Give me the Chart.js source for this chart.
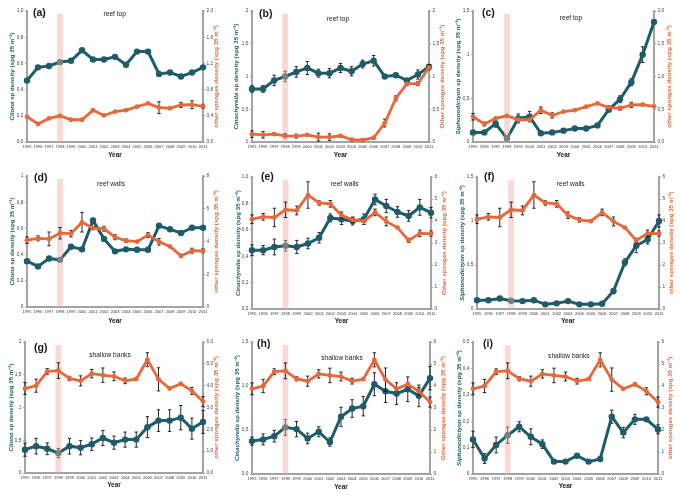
<!DOCTYPE html>
<html><head><meta charset="utf-8">
<script src="https://cdn.jsdelivr.net/npm/chart.js@4.4.1/dist/chart.umd.min.js"></script>
<style>
html,body{margin:0;padding:0;background:#fff}
body{width:680px;height:502px;position:relative;overflow:hidden}
canvas{position:absolute}
</style>
</head><body>
<script>
// ---------- DATA ----------
const years = ['1995','1996','1997','1998','1999','2000','2001','2002','2003','2004','2005','2006','2007','2008','2009','2010','2011'];

// reef top
const topCliona       = [0.47,0.57,0.58,0.61,0.62,0.70,0.63,0.63,0.65,0.59,0.69,0.69,0.52,0.53,0.50,0.53,0.57];
const topClionaErr    = [0,0,0,0,0,0,0,0,0,0,0,0,0,0,0,0,0];
const topOther        = [0.385,0.275,0.36,0.40,0.34,0.34,0.485,0.405,0.465,0.485,0.54,0.59,0.525,0.515,0.565,0.57,0.545];
const topOtherErrA    = [0,0,0,0,0,0,0,0,0,0,0,0,0.09,0,0.04,0.06,0.03];
const topOtherErrC    = [0.05,0.03,0,0,0,0,0.05,0.04,0,0,0,0,0.03,0.03,0.04,0.02,0];
const topCinachyrella    = [0.81,0.81,0.94,1.00,1.07,1.13,1.05,1.05,1.13,1.08,1.19,1.24,1.00,1.02,0.94,1.03,1.15];
const topCinachyrellaErr = [0.05,0.05,0.08,0.08,0.08,0.10,0.06,0.07,0.07,0.07,0.06,0.08,0.03,0.03,0.02,0.07,0.03];
const topOtherB       = [0.12,0.11,0.12,0.095,0.09,0.11,0.075,0.075,0.095,0.035,0.03,0.065,0.29,0.665,0.89,0.89,1.14];
const topOtherErrB    = [0.05,0.05,0.02,0.03,0.03,0.02,0.06,0.05,0.02,0.02,0.02,0.02,0.06,0.04,0.03,0.03,0.04];
const topSipho        = [0.11,0.11,0.21,0.04,0.27,0.29,0.10,0.11,0.13,0.155,0.155,0.19,0.37,0.49,0.685,1.0,1.375];
const topSiphoErr     = [0,0,0.04,0,0.05,0.06,0,0,0,0,0,0,0.02,0.04,0.04,0.09,0];

// reef walls
const wallsCliona     = [0.35,0.31,0.37,0.36,0.46,0.44,0.66,0.52,0.425,0.44,0.437,0.437,0.62,0.593,0.565,0.605,0.605];
const wallsClionaErr  = [0,0,0,0,0,0,0,0,0,0,0,0,0,0,0,0,0];
const wallsOther      = [4.08,4.19,4.16,4.51,4.48,5.18,4.82,4.78,4.26,4.05,3.99,4.39,3.98,3.70,3.12,3.44,3.43];
const wallsOtherErr   = [0.2,0.15,0.42,0.35,0.2,0.6,0.1,0.15,0.15,0.1,0.05,0.15,0.2,0.05,0.1,0.15,0.12];
const wallsCinachyrella    = [0.446,0.446,0.47,0.479,0.47,0.496,0.54,0.69,0.68,0.667,0.68,0.83,0.78,0.735,0.705,0.77,0.73];
const wallsCinachyrellaErr = [0.04,0.035,0.06,0.04,0.05,0.04,0.04,0.03,0.04,0.03,0.04,0.04,0.05,0.04,0.04,0.06,0.04];
const wallsSipho      = [0.10,0.10,0.12,0.094,0.09,0.10,0.053,0.064,0.09,0.053,0.053,0.06,0.204,0.53,0.72,0.79,1.0];
const wallsSiphoErr   = [0,0,0,0,0,0,0,0,0,0,0,0,0.03,0.04,0.08,0.05,0.07];

// shallow banks
const shallowCliona    = [0.356,0.41,0.37,0.305,0.41,0.387,0.44,0.534,0.463,0.51,0.51,0.70,0.80,0.80,0.845,0.677,0.78];
const shallowClionaErr = [0.1,0.12,0.09,0.07,0.12,0.11,0.095,0.115,0.1,0.115,0.115,0.16,0.165,0.165,0.185,0.16,0.175];
const shallowOther     = [3.87,4.0,4.65,4.69,4.33,4.22,4.55,4.48,4.43,4.22,4.31,5.19,4.29,3.87,4.08,3.76,3.27];
const shallowOtherErr  = [0.27,0.3,0.13,0.36,0.1,0.23,0.19,0.33,0.2,0.13,0.05,0.32,0.53,0.05,0.07,0.16,0.23];
const shallowCinachyrella    = [0.374,0.393,0.43,0.53,0.51,0.404,0.48,0.363,0.65,0.744,0.77,1.02,0.94,0.914,0.963,0.888,1.09];
const shallowCinachyrellaErr = [0.047,0.062,0.066,0.09,0.087,0.06,0.057,0.047,0.108,0.1,0.11,0.13,0.128,0.123,0.14,0.123,0.134];
const shallowSipho     = [0.131,0.059,0.11,0.147,0.179,0.141,0.113,0.047,0.047,0.069,0.047,0.057,0.217,0.157,0.207,0.207,0.169];
const shallowSiphoErr  = [0.031,0.019,0.03,0.031,0.019,0.03,0.016,0.003,0.003,0.003,0,0,0.025,0.02,0.019,0.005,0.017];

// tick labels
const ticks01by02   = ['0,0','0,2','0,4','0,6','0,8','1,0'];
const ticks01by02b  = ['0','0,2','0,4','0,6','0,8','1'];
const ticks02by04   = ['0,0','0,4','0,8','1,2','1,6','2,0'];
const ticks02by05   = ['0','0,5','1','1,5','2'];
const ticks015      = ['0','0,5','1','1,5'];
const ticks015b     = ['0,0','0,5','1,0','1,5'];
const ticks02by05b  = ['0,0','0,5','1,0','1,5','2,0'];
const ticks08       = ['0','2','4','6','8'];
const ticks06       = ['0','1','2','3','4','5','6'];
const ticks06b      = ['0,0','1,0','2,0','3,0','4,0','5,0','6,0'];
const ticks005      = ['0','0,1','0,2','0,3','0,4','0,5'];

const yearsIdx1998 = 3;

// panels
const panels = [
 {id:'a', letter:'(a)', title:'reef top', genus:'Cliona', left:topCliona, leftErr:topClionaErr, right:topOther, rightErr:topOtherErrA, lt:ticks01by02, rt:ticks02by04, other:'other'},
 {id:'b', letter:'(b)', title:'reef top', genus:'Cinachyrella', left:topCinachyrella, leftErr:topCinachyrellaErr, right:topOtherB, rightErr:topOtherErrB, lt:ticks02by05, rt:ticks02by05, other:'Other'},
 {id:'c', letter:'(c)', title:'reef top', genus:'Siphonodictyon', left:topSipho, leftErr:topSiphoErr, right:topOther, rightErr:topOtherErrC, lt:ticks015, rt:ticks02by05b, other:'other'},
 {id:'d', letter:'(d)', title:'reef walls', genus:'Cliona', left:wallsCliona, leftErr:wallsClionaErr, right:wallsOther, rightErr:wallsOtherErr, lt:ticks01by02b, rt:ticks08, other:'other'},
 {id:'e', letter:'(e)', title:'reef walls', genus:'Cinachyrella', left:wallsCinachyrella, leftErr:wallsCinachyrellaErr, right:wallsOther, rightErr:wallsOtherErr, lt:ticks01by02, rt:ticks06, other:'Other'},
 {id:'f', letter:'(f)', title:'reef walls', genus:'Siphonodictyon', left:wallsSipho, leftErr:wallsSiphoErr, right:wallsOther, rightErr:wallsOtherErr, lt:ticks015, rt:ticks06, other:'other'},
 {id:'g', letter:'(g)', title:'shallow banks', genus:'Cliona', left:shallowCliona, leftErr:shallowClionaErr, right:shallowOther, rightErr:shallowOtherErr, lt:ticks02by05, rt:ticks06b, other:'other'},
 {id:'h', letter:'(h)', title:'shallow banks', genus:'Cinachyrella', left:shallowCinachyrella, leftErr:shallowCinachyrellaErr, right:shallowOther, rightErr:shallowOtherErr, lt:ticks015b, rt:ticks06, other:'Other'},
 {id:'i', letter:'(i)', title:'shallow banks', genus:'Siphonodictyon', left:shallowSipho, leftErr:shallowSiphoErr, right:shallowOther, rightErr:shallowOtherErr, lt:ticks005, rt:ticks06, other:'other'}
];

// ---------- LAYOUT (page pixel positions) ----------
const geom = {
 a:{cx:0,cy:0,cw:226,ch:165,L:27,R:203,T:11,B:142,ltX:12.5,rtX:216,yearY:155.5,letX:33,letY:13.5,titX:114.7,titY:14},
 b:{cx:226,cy:0,cw:226,ch:165,L:252,R:429,T:11,B:142,ltX:236,rtX:442,yearY:155.5,letX:259,letY:14,titX:338,titY:19.5},
 c:{cx:452,cy:0,cw:228,ch:165,L:473,R:654,T:11,B:142,ltX:458.5,rtX:669.5,yearY:155.5,letX:482,letY:13,titX:571,titY:18.3},
 d:{cx:0,cy:165,cw:226,ch:165,L:27,R:203,T:176,B:307,ltX:12.5,rtX:216,yearY:321.7,letX:34,letY:178.3,titX:111,titY:184.3},
 e:{cx:226,cy:165,cw:226,ch:165,L:252,R:431,T:177,B:309,ltX:238,rtX:444,yearY:321.7,letX:261,letY:177,titX:344.7,titY:184},
 f:{cx:452,cy:165,cw:228,ch:165,L:477,R:659,T:177,B:309,ltX:462.7,rtX:671,yearY:321.7,letX:484,letY:177.3,titX:570.7,titY:184},
 g:{cx:0,cy:330,cw:226,ch:172,L:25,R:203,T:342,B:473,ltX:11.5,rtX:216,yearY:485.7,letX:34,letY:347.7,titX:110,titY:355},
 h:{cx:226,cy:330,cw:226,ch:172,L:252,R:430,T:342,B:474,ltX:237.7,rtX:443.5,yearY:487,letX:257,letY:344,titX:342,titY:357.7},
 i:{cx:452,cy:330,cw:228,ch:172,L:473,R:658,T:342,B:474,ltX:459.5,rtX:670.5,yearY:486.5,letX:483,letY:344,titX:568.8,titY:356}
};

// ---------- STYLE ----------
const TEAL = '#1d5c68';
const ORANGE = '#e8683a';
const AXIS = '#a3a3a3';
const FONT = "'Liberation Sans', Arial, sans-serif";
const TICK_SIZE = 4.8, XTICK_SIZE = 4, TITLE_SIZE = 6.2, YEAR_SIZE = 6.5;

function num(s){ return parseFloat(s.replace(',', '.')); }

function drawVTitle(ctx, x, y, segs, color) {
  ctx.save();
  ctx.translate(x, y);
  ctx.rotate(-Math.PI / 2);
  ctx.fillStyle = color;
  ctx.textBaseline = 'middle';
  ctx.textAlign = 'left';
  const fonts = segs.map(s => (s.i ? 'italic ' : '') + 'bold ' + TITLE_SIZE + 'px ' + FONT);
  let total = 0;
  segs.forEach((s, k) => { ctx.font = fonts[k]; total += ctx.measureText(s.t).width; });
  let pos = -total / 2;
  segs.forEach((s, k) => { ctx.font = fonts[k]; ctx.fillText(s.t, pos, 0); pos += ctx.measureText(s.t).width; });
  ctx.restore();
}

const deco = {
  id: 'deco',
  beforeDatasetDraw(chart, args) {
    const ds = chart.data.datasets[args.index];
    const meta = args.meta;
    const ys = chart.scales[meta.yAxisID];
    const ctx = chart.ctx;
    ctx.save();
    ctx.strokeStyle = '#111';
    ctx.lineWidth = 0.9;
    ds.err.forEach((e, i) => {
      if (!e) return;
      const x = meta.data[i].x;
      const v = ds.data[i];
      const y1 = ys.getPixelForValue(v + e), y2 = ys.getPixelForValue(v - e);
      ctx.beginPath();
      ctx.moveTo(x, y1); ctx.lineTo(x, y2);
      ctx.moveTo(x - 1.7, y1); ctx.lineTo(x + 1.7, y1);
      ctx.moveTo(x - 1.7, y2); ctx.lineTo(x + 1.7, y2);
      ctx.stroke();
    });
    ctx.restore();
  },
  afterDatasetDraw(chart, args) {
    if (args.index !== 0) return;
    const ctx = chart.ctx, a = chart.chartArea;
    const x = chart.scales.x.getPixelForValue(yearsIdx1998);
    ctx.save();
    ctx.fillStyle = 'rgba(240,170,165,0.45)';
    ctx.fillRect(x - 2.9, a.top + 3, 5.8, a.bottom - a.top - 3);
    ctx.restore();
  },
  afterDraw(chart, args, o) {
    const ctx = chart.ctx, g = o.g, p = o.p, a = chart.chartArea;
    const midY = (a.top + a.bottom) / 2;
    ctx.save();
    ctx.fillStyle = '#1a1a1a';
    ctx.textBaseline = 'middle';
    ctx.textAlign = 'left';
    ctx.font = 'bold 10.5px ' + FONT;
    ctx.fillText(p.letter, g.letX - g.cx, g.letY - g.cy);
    ctx.textAlign = 'center';
    ctx.font = '6.6px ' + FONT;
    ctx.fillText(p.title, g.titX - g.cx, g.titY - g.cy);
    ctx.restore();
    drawVTitle(ctx, g.ltX - g.cx, midY, [{t:p.genus, i:true}, {t:' sp density (spg 35 m\u207B\u00B2)'}], TEAL);
    drawVTitle(ctx, g.rtX - g.cx, midY, [{t:p.other + ' sponges density (spg 35 m\u207B\u00B2)'}], ORANGE);
  }
};

panels.forEach(p => {
  const g = geom[p.id];
  const cv = document.createElement('canvas');
  cv.width = g.cw; cv.height = g.ch;
  cv.style.left = g.cx + 'px'; cv.style.top = g.cy + 'px';
  cv.style.width = g.cw + 'px'; cv.style.height = g.ch + 'px';
  document.body.appendChild(cv);

  const lVals = p.lt.map(num), rVals = p.rt.map(num);
  const yearLH = YEAR_SIZE * 1.2;

  const yScale = (labels, vals, pos, w) => ({
    type: 'linear', position: pos,
    min: vals[0], max: vals[vals.length - 1],
    grid: { display: true, drawOnChartArea: false, drawTicks: true, tickLength: 2, color: AXIS, lineWidth: 1 },
    border: { display: true, color: AXIS, width: 2 },
    ticks: { padding: 1.5, color: '#444', font: { size: TICK_SIZE, family: FONT }, callback: (v, i) => labels[i] },
    afterBuildTicks: s => { s.ticks = vals.map(v => ({ value: v })); },
    afterFit: s => { s.width = w; },
    title: { display: false }
  });

  new Chart(cv, {
    type: 'line',
    data: {
      labels: years,
      datasets: [
        { label: p.genus, data: p.left, err: p.leftErr, yAxisID: 'y', order: 2,
          borderColor: TEAL, backgroundColor: TEAL, borderWidth: 3,
          pointRadius: 3.2, pointBackgroundColor: TEAL, pointBorderWidth: 0,
          tension: 0, clip: false },
        { label: p.other + ' sponges', data: p.right, err: p.rightErr, yAxisID: 'y2', order: 1,
          borderColor: ORANGE, backgroundColor: ORANGE, borderWidth: 2.8,
          pointRadius: 2.4, pointBackgroundColor: ORANGE, pointBorderWidth: 0,
          tension: 0, clip: false }
      ]
    },
    options: {
      responsive: false, animation: false, devicePixelRatio: 1,
      layout: { padding: { top: g.T - g.cy, left: 0, right: 0, bottom: 0 } },
      plugins: { legend: { display: false }, tooltip: { enabled: false }, title: { display: false },
                 deco: { g: g, p: p } },
      scales: {
        x: {
          type: 'category', offset: false,
          grid: { display: false, drawTicks: false },
          border: { display: true, color: AXIS, width: 2 },
          ticks: { autoSkip: false, maxRotation: 0, minRotation: 0, padding: 2.5, color: '#333',
                   font: { size: XTICK_SIZE, family: FONT } },
          title: { display: true, text: 'Year', color: '#222', font: { size: YEAR_SIZE, weight: 'bold', family: FONT },
                   padding: { top: 0, bottom: (g.ch - (g.yearY - g.cy)) - yearLH / 2 } },
          afterFit: s => { s.height = g.ch - (g.B - g.cy); }
        },
        y: yScale(p.lt, lVals, 'left', g.L - g.cx),
        y2: yScale(p.rt, rVals, 'right', g.cx + g.cw - g.R)
      }
    },
    plugins: [deco]
  });
});
</script>
</body></html>
